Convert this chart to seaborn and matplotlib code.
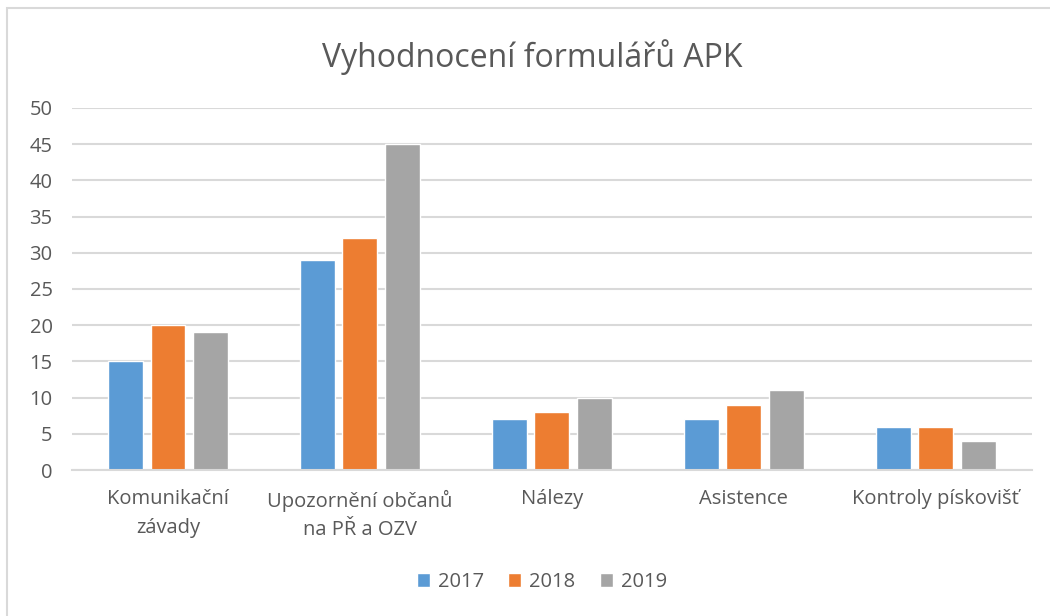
import matplotlib
matplotlib.use("Agg")
import matplotlib.pyplot as plt
from matplotlib.patches import Rectangle
import pandas as pd
import seaborn as sns

categories = ["Komunikační\nzávady", "Upozornění občanů\nna PŘ a OZV", "Nálezy", "Asistence", "Kontroly pískovišť"]
years = ["2017", "2018", "2019"]
values_2017 = [15, 29, 7, 7, 6]
values_2018 = [20, 32, 8, 9, 6]
values_2019 = [19, 45, 10, 11, 4]
colors = ["#5b9bd5", "#ed7d31", "#a5a5a5"]

df = pd.DataFrame({
    "kategorie": categories * 3,
    "rok": [y for y in years for _ in categories],
    "pocet": values_2017 + values_2018 + values_2019,
})

sns.set_style("white")
plt.rcParams["font.family"] = ["Open Sans", "DejaVu Sans"]
text_color = "#595959"
grid_color = "#d9d9d9"

fig = plt.figure(figsize=(10.5, 6.16), dpi=100)
ax = fig.add_axes([0.0686, 0.237, 0.914, 0.5877])

sns.barplot(data=df, x="kategorie", y="pocet", hue="rok", palette=colors,
            width=0.665, gap=0.18, ax=ax, saturation=1)

ax.set_ylim(0, 50)
ax.set_yticks(range(0, 51, 5))
ax.set_xlim(-0.5, 4.5)
ax.yaxis.grid(True, color=grid_color, linewidth=1.5)
ax.set_axisbelow(True)
for side in ["top", "right", "left"]:
    ax.spines[side].set_visible(False)
ax.spines["bottom"].set_color(grid_color)
ax.spines["bottom"].set_linewidth(1.5)
ax.tick_params(axis="both", length=0, labelsize=14.5, labelcolor=text_color)
ax.tick_params(axis="x", pad=14)
ax.tick_params(axis="y", pad=14)
for lbl in ax.get_xticklabels():
    lbl.set_linespacing(1.55)
ax.set_xlabel("")
ax.set_ylabel("")

fig.text(0.507, 0.908, "Vyhodnocení formulářů APK", ha="center", va="center",
         fontsize=23, color=text_color)

handles, labels = ax.get_legend_handles_labels()
ax.legend(handles, labels, loc="center", bbox_to_anchor=(0.516, 0.055),
          bbox_transform=fig.transFigure, ncol=3, frameon=False, fontsize=14.5,
          handlelength=0.65, handleheight=0.65, handletextpad=0.4, columnspacing=1.2,
          labelcolor=text_color)

fig.add_artist(Rectangle((0.0067, -0.5), 2, 1.487, transform=fig.transFigure,
                         fill=False, edgecolor=grid_color, linewidth=1.5, clip_on=False))

fig.savefig("out.png", dpi=100)
